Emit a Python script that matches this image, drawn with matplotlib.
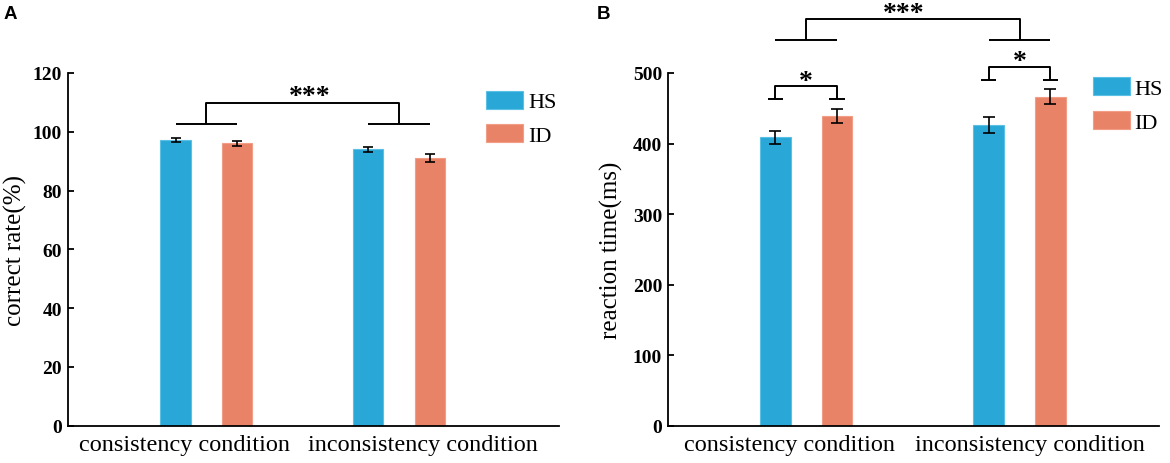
import matplotlib
matplotlib.use("Agg")
import matplotlib.pyplot as plt

# ---------------- data ----------------
conditions = ["consistency condition", "inconsistency condition"]
groups = ["HS", "ID"]

rate_hs = [97.2, 94.0]
rate_id = [96.1, 91.2]
rate_hs_err = [0.6, 0.85]
rate_id_err = [0.85, 1.36]

rt_hs = [408.8, 426.7]
rt_id = [438.6, 466.4]
rt_hs_err = [9.5, 11.1]
rt_id_err = [9.7, 10.9]

rate_ticks = [0, 20, 40, 60, 80, 100, 120]
rt_ticks = [0, 100, 200, 300, 400, 500]

# ---------------- style ----------------
BLUE = "#29A7D6"
ORANGE = "#E98367"
BLUE_EDGE = "#5BC0E6"
ORANGE_EDGE = "#F29E86"
SERIF = ["Liberation Serif", "DejaVu Serif"]
SANS = ["Liberation Sans", "DejaVu Sans"]

W, H = 1170, 464
fig = plt.figure(figsize=(W / 100, H / 100), dpi=100)


def px_rect(x0, x1, ytop, ybot):
    return [x0 / W, 1 - ybot / H, (x1 - x0) / W, (ybot - ytop) / H]


axA = fig.add_axes(px_rect(67.5, 559, 74, 426.7))
axB = fig.add_axes(px_rect(667.7, 1159.3, 74, 426.7))

pos = [0, 1]


def style_axes(ax, ylim, ticks, xlim, xlabel_pos, ylabel, labelpad):
    ax.set_xlim(*xlim)
    ax.set_ylim(*ylim)
    for s in ("top", "right"):
        ax.spines[s].set_visible(False)
    for s in ("left", "bottom"):
        ax.spines[s].set_linewidth(1.3)
        ax.spines[s].set_color("black")
    ax.set_yticks(ticks)
    ax.set_yticklabels([str(t) for t in ticks], fontfamily=SERIF,
                       fontweight="bold", fontsize=14)
    ax.tick_params(axis="y", direction="in", length=4, width=1.3, pad=4)
    ax.set_xticks(xlabel_pos)
    ax.set_xticklabels(conditions, fontfamily=SERIF, fontsize=17.5)
    ax.tick_params(axis="x", length=0, pad=6)
    ax.set_ylabel(ylabel, fontfamily=SERIF, fontsize=18, labelpad=labelpad)


def draw_bars(ax, hs, id_, hs_err, id_err, off, width, capsize):
    xh = [p - off for p in pos]
    xi = [p + off for p in pos]
    ax.bar(xh, hs, width=width, color=BLUE, edgecolor=BLUE_EDGE,
           linewidth=0.8, label=groups[0], zorder=2)
    ax.bar(xi, id_, width=width, color=ORANGE, edgecolor=ORANGE_EDGE,
           linewidth=0.8, label=groups[1], zorder=2)
    ax.errorbar(xh, hs, yerr=hs_err, fmt="none", ecolor="black",
                elinewidth=1.2, capsize=capsize, capthick=1.2, zorder=3)
    ax.errorbar(xi, id_, yerr=id_err, fmt="none", ecolor="black",
                elinewidth=1.2, capsize=capsize, capthick=1.2, zorder=3)
    return xh, xi


def line(ax, xs, ys):
    ax.plot(xs, ys, color="black", lw=1.4, clip_on=False,
            solid_capstyle="butt", zorder=4)


def star(ax, x, y, s, fs):
    ax.text(x, y, s, ha="center", va="center", fontsize=fs,
            fontfamily=SERIF, fontweight="bold", clip_on=False)


# ---------------- panel A ----------------
offA, widthA = 0.160, 0.157
style_axes(axA, (0, 120), rate_ticks, (-0.721, 1.831), [-0.111, 1.125],
           "correct rate(%)", 4)
xhA, xiA = draw_bars(axA, rate_hs, rate_id, rate_hs_err, rate_id_err,
                     offA, widthA, 3.3)
lowA, topA = 102.7, 109.9
for g in range(2):
    line(axA, [xhA[g], xiA[g]], [lowA, lowA])
line(axA, [pos[0], pos[0], pos[1], pos[1]], [lowA, topA, topA, lowA])
star(axA, 0.535, 112.0, "***", 20)

# ---------------- panel B ----------------
offB, widthB = 0.1445, 0.144
style_axes(axB, (0, 500), rt_ticks, (-0.649, 1.655), [-0.077, 1.049],
           "reaction time(ms)", 7)
xhB, xiB = draw_bars(axB, rt_hs, rt_id, rt_hs_err, rt_id_err,
                     offB, widthB, 4.0)
tick_hw = 0.036
small = [(463.1, 481.1, 488.0), (490.5, 508.9, 516.5)]
for g, (ylo, yhi, ystar) in enumerate(small):
    line(axB, [xhB[g] - tick_hw, xhB[g] + tick_hw], [ylo, ylo])
    line(axB, [xiB[g] - tick_hw, xiB[g] + tick_hw], [ylo, ylo])
    line(axB, [xhB[g], xhB[g], xiB[g], xiB[g]], [ylo, yhi, yhi, ylo])
    star(axB, pos[g], ystar, "*", 20)
lowB, topB = 546.8, 576.1
for g in range(2):
    line(axB, [xhB[g], xiB[g]], [lowB, lowB])
line(axB, [pos[0], pos[0], pos[1], pos[1]], [lowB, topB, topB, lowB])
star(axB, 0.455, 584.0, "***", 20)

# ---------------- legends ----------------
for ax, x0, y0 in ((axA, 486.4, 91.5), (axB, 1093, 78)):
    ax.legend(loc="upper left", bbox_to_anchor=(x0 / W, 1 - y0 / H),
              bbox_transform=fig.transFigure, frameon=False, borderpad=0,
              borderaxespad=0, handlelength=1.65, handleheight=0.87,
              handletextpad=0.22, labelspacing=0.55,
              prop={"family": SERIF, "size": 16})

# ---------------- panel letters ----------------
fig.text(4 / W, 1 - 6 / H, "A", ha="left", va="top", fontsize=13.5,
         fontweight="bold", fontfamily=SANS)
fig.text(597 / W, 1 - 6 / H, "B", ha="left", va="top", fontsize=13.5,
         fontweight="bold", fontfamily=SANS)

fig.savefig("out.png", dpi=100)
